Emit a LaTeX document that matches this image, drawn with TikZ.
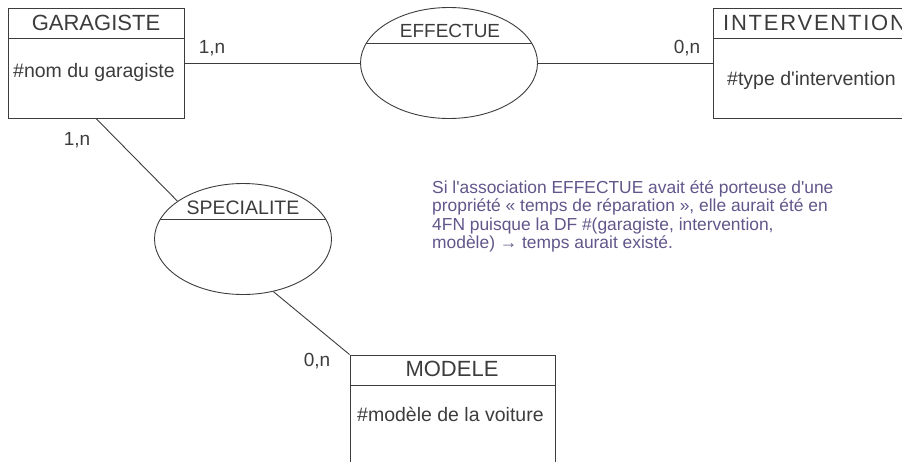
\documentclass[tikz,border=0pt]{standalone}
\usepackage{fontspec}
\setmainfont{Liberation Sans}
\usepackage{tikz}
\usetikzlibrary{shapes.geometric, positioning}
\definecolor{traitcol}{RGB}{60,60,60}
\definecolor{notecol}{RGB}{98,86,138}
\newcommand{\apos}{\textquotesingle}
\tikzstyle{entite} = [rectangle, draw=traitcol, line width=0.9pt, inner sep=0pt, path picture={\draw[traitcol, line width=0.9pt] ([yshift=-30pt]path picture bounding box.north west) -- ([yshift=-30pt]path picture bounding box.north east);}]
\tikzstyle{assoc} = [ellipse, draw=traitcol, line width=0.9pt, minimum width=177pt, minimum height=111pt, inner sep=0pt, path picture={\draw[traitcol, line width=0.9pt] ([yshift=20pt]path picture bounding box.west) -- ([yshift=20pt]path picture bounding box.east);}]
\tikzstyle{titre} = [font=\fontsize{22}{26}\selectfont, text=traitcol, inner sep=0pt]
\tikzstyle{attribut} = [font=\fontsize{19.5}{23}\selectfont, text=traitcol, inner sep=0pt, anchor=west]
\tikzstyle{card} = [font=\fontsize{19}{22}\selectfont, text=traitcol, inner sep=0pt]
\tikzstyle{line} = [draw=traitcol, line width=0.9pt]

\begin{document}
\begin{tikzpicture}[x=1pt, y=-1pt]
        \useasboundingbox (0,0) rectangle (902,461);
        \clip (0,0) rectangle (902,461);

        % Entities
        \node (e1) [entite, minimum width=176pt, minimum height=110pt] at (96,63) {};
        \node (e2) [entite, minimum width=212pt, minimum height=110pt] at (819,63) {};
        \node (e3) [entite, minimum width=205pt, minimum height=130pt] at (452.5,420) {};
        \node (t1) [titre] at (96,23) {GARAGISTE};
        \node (t2) [titre, anchor=west] at (723,23) {\addfontfeatures{LetterSpace=8}INTERVENTION};
        \node (t3) [titre] at (452,369) {MODELE};
        \node (at1) [attribut] at (13,72) {\#nom du garagiste};
        \node (at2) [attribut] at (727,80) {\#type d\apos intervention};
        \node (at3) [attribut] at (357,414) {\#modèle de la voiture};

        % Associations
        \node (a1) [assoc] at (449,63) {};
        \node (a2) [assoc] at (243,239) {};
        \node (t4) [titre, font=\fontsize{19}{22}\selectfont] at (450,31) {EFFECTUE};
        \node (t5) [titre, font=\fontsize{19.5}{22}\selectfont] at (243,208) {SPECIALITE};

        % Cardinalities
        \node (c1) [card] at (212,48) {1,n};
        \node (c2) [card] at (687,48) {0,n};
        \node (c3) [card] at (77,140) {1,n};
        \node (c4) [card] at (317,361) {0,n};

        % Note
        \node (n1) [anchor=north west, align=left, inner sep=0pt, text=notecol, font=\fontsize{17.4}{18.6}\selectfont] at (432,180)
              {Si l\apos association EFFECTUE avait été porteuse d\apos une\\propriété « temps de réparation », elle aurait été en\\4FN puisque la DF \#(garagiste, intervention,\\modèle) → temps aurait existé.};

        % Draw edges
        \path [line] (e1) -- (a1);
        \path [line] (a1) -- (e2);
        \path [line] (e1.south) -- (a2.150);
        \path [line] (a2.-60) -- (e3.north west);

\end{tikzpicture}
\end{document}
